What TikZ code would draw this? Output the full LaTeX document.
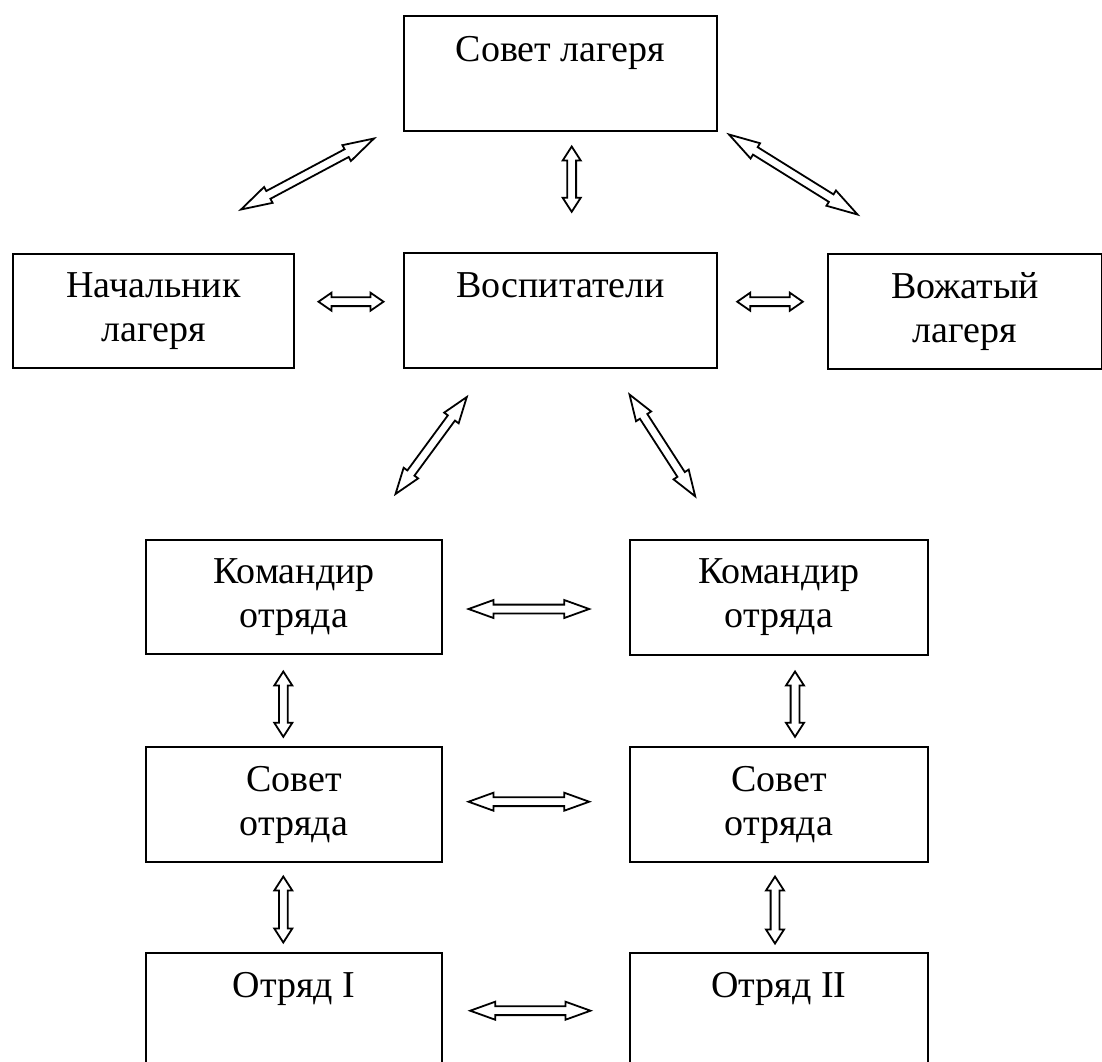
\documentclass[tikz,border=0pt]{standalone}
\usepackage{fontspec}
\setmainfont{Liberation Serif}
\usetikzlibrary{calc}
\tikzset{
  box/.style={draw, line width=2pt, inner sep=0pt, anchor=north west},
  lbl/.style={font=\fontsize{38}{44.5}\selectfont, inner sep=0pt, anchor=base},
  arr/.style={draw, line width=1.8pt, line join=miter, fill=white},
}
\newcommand\twolines[2]{\vtop{\hsize=300pt\parindent=0pt\centering #1\par #2}}
\newcommand\dblarrow[3]{%
  \path ($(#1)!#3!(#2)$) coordinate (p1) ($(#2)!#3!(#1)$) coordinate (p2);
  \draw[arr] (#1) -- ($(p1)!9pt!90:(#2)$) -- ($(p1)!4.4pt!90:(#2)$)
    -- ($(p2)!4.4pt!-90:(#1)$) -- ($(p2)!9pt!-90:(#1)$) -- (#2)
    -- ($(p2)!9pt!90:(#1)$) -- ($(p2)!4.4pt!90:(#1)$)
    -- ($(p1)!4.4pt!-90:(#2)$) -- ($(p1)!9pt!-90:(#2)$) -- cycle;
}
\begin{document}
\begin{tikzpicture}[x=1pt,y=-1pt]
\useasboundingbox (0,0) rectangle (1102,1061);
\clip (0,0) rectangle (1102,1061);
\fill[white] (0,0) rectangle (1102,1061);

% boxes
\node[box, minimum width=313pt, minimum height=115pt] (sovet) at (403,15) {};
\node[box, minimum width=281pt, minimum height=114pt] (nach) at (12,253) {};
\node[box, minimum width=313pt, minimum height=115pt] (vosp) at (403,252) {};
\node[box, minimum width=274pt, minimum height=115pt] (vozh) at (827,253) {};
\node[box, minimum width=296pt, minimum height=114pt] (kom1) at (145,539) {};
\node[box, minimum width=298pt, minimum height=115pt] (kom2) at (629,539) {};
\node[box, minimum width=296pt, minimum height=115pt] (so1) at (145,746) {};
\node[box, minimum width=298pt, minimum height=115pt] (so2) at (629,746) {};
\node[box, minimum width=296pt, minimum height=130pt] (otr1) at (145,952) {};
\node[box, minimum width=298pt, minimum height=130pt] (otr2) at (629,952) {};

% labels
\node[lbl] (tsovet) at ([yshift=-46pt]sovet.north) {Совет лагеря};
\node[lbl] (tnach) at ([yshift=-44pt]nach.north) {\twolines{Начальник}{лагеря}};
\node[lbl] (tvosp) at ([yshift=-45pt]vosp.north) {Воспитатели};
\node[lbl] (tvozh) at ([yshift=-45pt]vozh.north) {\twolines{Вожатый}{лагеря}};
\node[lbl] (tkom1) at ([yshift=-44pt]kom1.north) {\twolines{Командир}{отряда}};
\node[lbl] (tkom2) at ([yshift=-44pt]kom2.north) {\twolines{Командир}{отряда}};
\node[lbl] (tso1) at ([yshift=-45pt]so1.north) {\twolines{Совет}{отряда}};
\node[lbl] (tso2) at ([yshift=-45pt]so2.north) {\twolines{Совет}{отряда}};
\node[lbl] (totr1) at ([yshift=-45pt]otr1.north) {Отряд I};
\node[lbl] (totr2) at ([yshift=-45pt]otr2.north) {Отряд II};

% arrow end points
\coordinate (a1s) at (374,138.5);
\coordinate (a1e) at (241,209.5);
\coordinate (a2s) at (729,134.5);
\coordinate (a2e) at (857.5,214.5);
\coordinate (a3s) at (571.7,146.5);
\coordinate (a3e) at (571.7,211.8);
\coordinate (a4s) at (318.5,301.7);
\coordinate (a4e) at (383.5,301.7);
\coordinate (a5s) at (737.2,301.7);
\coordinate (a5e) at (802.8,301.7);
\coordinate (a6s) at (466.8,397);
\coordinate (a6e) at (395.5,494);
\coordinate (a7s) at (629.5,394.5);
\coordinate (a7e) at (695.2,496.3);
\coordinate (a8s) at (468.5,609);
\coordinate (a8e) at (589.2,609);
\coordinate (a9s) at (283.3,671.5);
\coordinate (a9e) at (283.3,736.8);
\coordinate (a10s) at (283.3,876.5);
\coordinate (a10e) at (283.3,942.5);
\coordinate (a11s) at (795,671.5);
\coordinate (a11e) at (795,736.8);
\coordinate (a12s) at (775,876.5);
\coordinate (a12e) at (775,943.5);
\coordinate (a13s) at (468.5,801.7);
\coordinate (a13e) at (589.2,801.7);
\coordinate (a14s) at (470.2,1010.7);
\coordinate (a14e) at (590.5,1010.7);

\dblarrow{a1s}{a1e}{31pt}
\dblarrow{a2s}{a2e}{31pt}
\dblarrow{a3s}{a3e}{14pt}
\dblarrow{a4s}{a4e}{13pt}
\dblarrow{a5s}{a5e}{13pt}
\dblarrow{a6s}{a6e}{26pt}
\dblarrow{a7s}{a7e}{26pt}
\dblarrow{a8s}{a8e}{25pt}
\dblarrow{a9s}{a9e}{14pt}
\dblarrow{a10s}{a10e}{14pt}
\dblarrow{a11s}{a11e}{14pt}
\dblarrow{a12s}{a12e}{14pt}
\dblarrow{a13s}{a13e}{25pt}
\dblarrow{a14s}{a14e}{25pt}
\end{tikzpicture}
\end{document}
